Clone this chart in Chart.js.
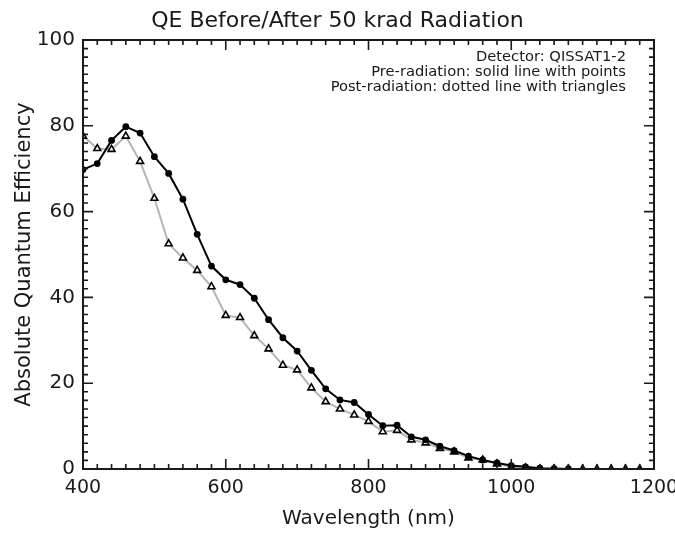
<!DOCTYPE html>
<html>
<head>
<meta charset="utf-8">
<script src="https://cdn.jsdelivr.net/npm/chart.js@4"></script>
<style>
  html, body { margin: 0; padding: 0; background: #fff; }
</style>
</head>
<body>
<canvas id="myChart" width="675" height="533"></canvas>
<script>
// wavelength grid (nm)
const wavelength = [400, 420, 440, 460, 480, 500, 520, 540, 560, 580,
  600, 620, 640, 660, 680, 700, 720, 740, 760, 780,
  800, 820, 840, 860, 880, 900, 920, 940, 960, 980,
  1000, 1020, 1040, 1060, 1080, 1100, 1120, 1140, 1160, 1180];

// pre-radiation QE (solid line with points)
const preRad = [69.8, 71.2, 76.6, 79.8, 78.3, 72.8, 68.9, 62.9, 54.7, 47.3,
  44.1, 43.0, 39.8, 34.8, 30.6, 27.5, 23.0, 18.7, 16.1, 15.5,
  12.7, 10.1, 10.2, 7.5, 6.8, 5.3, 4.3, 3.0, 2.1, 1.4,
  0.8, 0.5, 0.2, 0.1, 0.0];

// post-radiation QE (grey line with triangles)
const postRad = [77.6, 74.7, 74.5, 77.6, 71.7, 63.1, 52.5, 49.2, 46.3, 42.5,
  35.8, 35.3, 31.1, 28.0, 24.2, 23.1, 18.9, 15.7, 14.0, 12.6,
  11.1, 8.7, 9.0, 6.8, 6.1, 4.8, 4.0, 2.6, 2.1, 1.2,
  0.5, 0.2, 0.0, 0.0, 0.0, 0.0, 0.0, 0.0, 0.0, 0.0];

const xTicks = [400, 600, 800, 1000, 1200];
const yTicks = [0, 20, 40, 60, 80, 100];

const notes = [
  'Detector: QISSAT1-2',
  'Pre-radiation: solid line with points',
  'Post-radiation: dotted line with triangles'
];

const FONT = "'DejaVu Sans', sans-serif";
const INK = '#1a1a1a';

const toPoints = (ys) => ys.map((y, i) => ({ x: wavelength[i], y: y }));

// frame, inward ticks on all four sides, and the notes box
const frameTicks = {
  id: 'frameTicks',
  afterDatasetsDraw(chart) {
    const { ctx, chartArea: a, scales } = chart;
    const xs = scales.x, ys = scales.y;
    ctx.save();
    ctx.strokeStyle = INK;
    ctx.lineWidth = 2;
    ctx.strokeRect(a.left, a.top, a.right - a.left, a.bottom - a.top);

    ctx.lineWidth = 1.6;
    ctx.beginPath();
    for (let v = 400; v <= 1200; v += 20) {
      const len = v % 200 === 0 ? 10 : 5;
      const px = xs.getPixelForValue(v);
      ctx.moveTo(px, a.bottom); ctx.lineTo(px, a.bottom - len);
      ctx.moveTo(px, a.top); ctx.lineTo(px, a.top + len);
    }
    for (let v = 0; v <= 100; v += 2) {
      const len = v % 20 === 0 ? 10 : 5;
      const py = ys.getPixelForValue(v);
      ctx.moveTo(a.left, py); ctx.lineTo(a.left + len, py);
      ctx.moveTo(a.right, py); ctx.lineTo(a.right - len, py);
    }
    ctx.stroke();

    ctx.fillStyle = INK;
    ctx.font = '14.7px ' + FONT;
    ctx.textAlign = 'right';
    ctx.textBaseline = 'middle';
    notes.forEach((t, i) => {
      ctx.fillText(t, a.right - 28, a.top + 17 + i * 15);
    });
    ctx.restore();
  }
};

new Chart(document.getElementById('myChart'), {
  type: 'line',
  data: {
    datasets: [
      {
        label: 'Pre-radiation',
        data: toPoints(preRad),
        borderColor: '#000',
        backgroundColor: '#000',
        borderWidth: 2,
        pointStyle: 'circle',
        pointRadius: 3.4,
        pointBorderWidth: 0,
        pointBackgroundColor: '#000',
        tension: 0,
        clip: 0
      },
      {
        label: 'Post-radiation',
        data: toPoints(postRad),
        borderColor: '#b4b4b4',
        backgroundColor: '#fff',
        borderWidth: 2,
        pointStyle: 'triangle',
        pointRadius: 4,
        pointBorderWidth: 1.6,
        pointBorderColor: '#000',
        pointBackgroundColor: '#fff',
        tension: 0,
        clip: 0
      }
    ]
  },
  options: {
    responsive: false,
    animation: false,
    devicePixelRatio: 1,
    layout: { padding: { top: 0, right: 0, bottom: 0, left: 0 } },
    plugins: {
      legend: { display: false },
      tooltip: { enabled: false },
      title: {
        display: true,
        text: 'QE Before/After 50 krad Radiation',
        color: INK,
        font: { family: FONT, size: 22, weight: 'normal' },
        padding: { top: 8, bottom: 5.6 }
      }
    },
    scales: {
      x: {
        type: 'linear',
        min: 400,
        max: 1200,
        afterFit: (s) => { s.height = 64; s.paddingRight = 21; s.paddingLeft = 0; },
        afterBuildTicks: (s) => { s.ticks = xTicks.map(v => ({ value: v })); },
        ticks: { color: INK, padding: 8, font: { family: FONT, size: 19 }, callback: (v) => String(v) },
        grid: { display: false, drawTicks: false },
        border: { display: false },
        title: {
          display: true,
          text: 'Wavelength (nm)',
          color: INK,
          font: { family: FONT, size: 20 },
          padding: { top: 0, bottom: 2 }
        }
      },
      y: {
        min: 0,
        max: 100,
        afterFit: (s) => { s.width = 83; },
        afterBuildTicks: (s) => { s.ticks = yTicks.map(v => ({ value: v })); },
        ticks: { color: INK, padding: 8, font: { family: FONT, size: 20 }, callback: (v) => String(v) },
        grid: { display: false, drawTicks: false },
        border: { display: false },
        title: {
          display: true,
          text: 'Absolute Quantum Efficiency',
          color: INK,
          font: { family: FONT, size: 21 },
          padding: { top: 12, bottom: 0 }
        }
      }
    }
  },
  plugins: [frameTicks]
});
</script>
</body>
</html>
